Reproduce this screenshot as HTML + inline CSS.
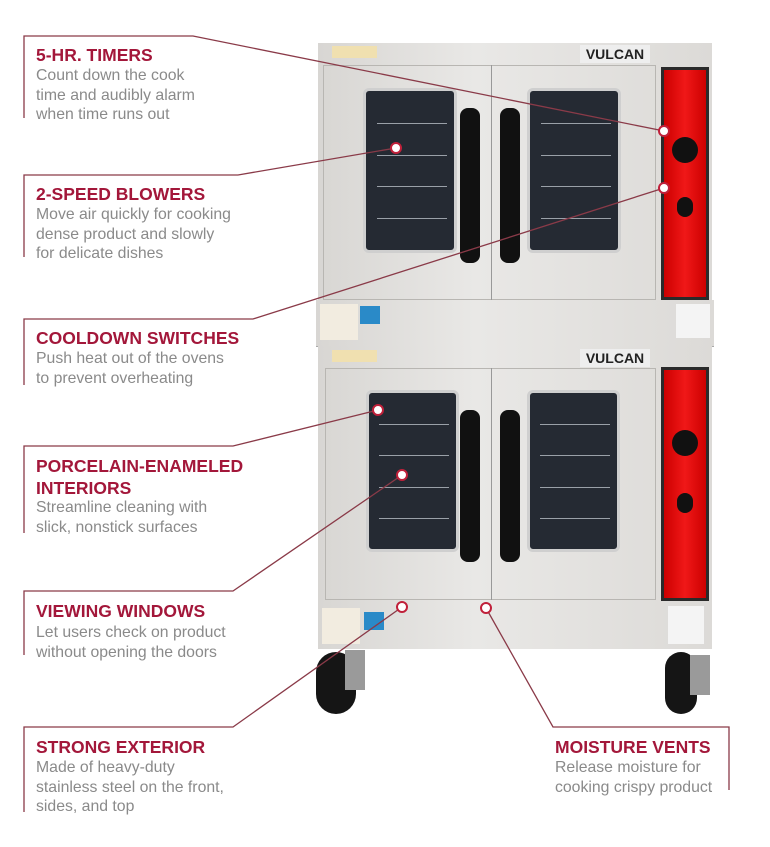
<!DOCTYPE html>
<html><head><meta charset="utf-8"><style>
body{margin:0;width:770px;height:847px;background:#fff;position:relative;overflow:hidden;font-family:"Liberation Sans",sans-serif}
.a{position:absolute}
.t{position:absolute;left:36px;color:#a3173a;font-weight:bold;font-size:17.5px;line-height:22px}
.d{position:absolute;left:36px;color:#8a8a8a;font-size:15.8px;line-height:19.5px}
.steel{background:linear-gradient(90deg,#d8d6d3,#e9e8e6 40%,#dcdad7);}
.win{background:#252a33;border:3px solid #cfcfcf;border-radius:6px;box-sizing:border-box}
.win i{position:absolute;height:1px;background:#9aa0a8;left:12%;right:8%}
.h{background:#111;border-radius:8px}
.red{background:linear-gradient(90deg,#c00,#f01818 50%,#c00);border:3px solid #2a2a2a;box-sizing:border-box}
</style></head><body>
<div class="a steel" style="left:318px;top:43px;width:394px;height:258px"></div>
<div class="a" style="left:580px;top:45px;width:70px;height:18px;background:#eee;font:bold 14px 'Liberation Sans';color:#222;text-align:center;line-height:18px">VULCAN</div>
<div class="a" style="left:332px;top:46px;width:45px;height:12px;background:#f0e0b0"></div>
<div class="a" style="left:323px;top:65px;width:333px;height:235px;border:1px solid #b8b6b2;box-sizing:border-box"></div>
<div class="a" style="left:491px;top:65px;width:1px;height:235px;background:#999"></div>
<div class="a win" style="left:363px;top:88px;width:94px;height:165px"><i style="top:20%"></i><i style="top:40%"></i><i style="top:60%"></i><i style="top:80%"></i></div>
<div class="a win" style="left:527px;top:88px;width:94px;height:165px"><i style="top:20%"></i><i style="top:40%"></i><i style="top:60%"></i><i style="top:80%"></i></div>
<div class="a h" style="left:460px;top:108px;width:20px;height:155px"></div>
<div class="a h" style="left:500px;top:108px;width:20px;height:155px"></div>
<div class="a red" style="left:661px;top:67px;width:48px;height:233px"></div>
<div class="a" style="left:672px;top:137px;width:26px;height:26px;border-radius:50%;background:#111"></div>
<div class="a" style="left:677px;top:197px;width:16px;height:20px;border-radius:8px;background:#111"></div>
<div class="a steel" style="left:316px;top:300px;width:398px;height:46px;border-bottom:1px solid #aaa"></div>
<div class="a" style="left:320px;top:304px;width:38px;height:36px;background:#f2ece0"></div>
<div class="a" style="left:360px;top:306px;width:20px;height:18px;background:#2a8ac8"></div>
<div class="a" style="left:676px;top:304px;width:34px;height:34px;background:#f4f4f4"></div>
<div class="a steel" style="left:318px;top:346px;width:394px;height:256px"></div>
<div class="a" style="left:580px;top:349px;width:70px;height:18px;background:#eee;font:bold 14px 'Liberation Sans';color:#222;text-align:center;line-height:18px">VULCAN</div>
<div class="a" style="left:332px;top:350px;width:45px;height:12px;background:#f0e0b0"></div>
<div class="a" style="left:325px;top:368px;width:331px;height:232px;border:1px solid #b8b6b2;box-sizing:border-box"></div>
<div class="a" style="left:491px;top:368px;width:1px;height:232px;background:#999"></div>
<div class="a win" style="left:366px;top:390px;width:93px;height:162px"><i style="top:20%"></i><i style="top:40%"></i><i style="top:60%"></i><i style="top:80%"></i></div>
<div class="a win" style="left:527px;top:390px;width:93px;height:162px"><i style="top:20%"></i><i style="top:40%"></i><i style="top:60%"></i><i style="top:80%"></i></div>
<div class="a h" style="left:460px;top:410px;width:20px;height:152px"></div>
<div class="a h" style="left:500px;top:410px;width:20px;height:152px"></div>
<div class="a red" style="left:661px;top:367px;width:48px;height:234px"></div>
<div class="a" style="left:672px;top:430px;width:26px;height:26px;border-radius:50%;background:#111"></div>
<div class="a" style="left:677px;top:493px;width:16px;height:20px;border-radius:8px;background:#111"></div>
<div class="a steel" style="left:318px;top:601px;width:394px;height:48px"></div>
<div class="a" style="left:322px;top:608px;width:38px;height:36px;background:#f2ece0"></div>
<div class="a" style="left:364px;top:612px;width:20px;height:18px;background:#2a8ac8"></div>
<div class="a" style="left:668px;top:606px;width:36px;height:38px;background:#f4f4f4"></div>
<div class="a" style="left:316px;top:652px;width:40px;height:62px;border-radius:20px;background:#151515"></div>
<div class="a" style="left:345px;top:650px;width:20px;height:40px;background:#9a9a9a"></div>
<div class="a" style="left:665px;top:652px;width:32px;height:62px;border-radius:16px;background:#151515"></div>
<div class="a" style="left:690px;top:655px;width:20px;height:40px;background:#9a9a9a"></div>
<svg class="a" style="left:0;top:0" width="770" height="847">
<g stroke="#8a3a48" stroke-width="1.3" fill="none">
<polyline points="24,118 24,36 193,36 664,131"/>
<polyline points="24,257 24,175 238,175 396,148"/>
<polyline points="24,385 24,319 253,319 664,188"/>
<polyline points="24,533 24,446 233,446 378,410"/>
<polyline points="24,655 24,591 233,591 402,475"/>
<polyline points="24,812 24,727 233,727 402,607"/>
<polyline points="729,790 729,727 553,727 486,608"/>
</g>
<g fill="#fff" stroke="#c0203a" stroke-width="2">
<circle cx="664" cy="131" r="5"/><circle cx="396" cy="148" r="5"/><circle cx="664" cy="188" r="5"/>
<circle cx="378" cy="410" r="5"/><circle cx="402" cy="475" r="5"/><circle cx="402" cy="607" r="5"/><circle cx="486" cy="608" r="5"/>
</g></svg>
<div class="t" style="top:44px">5-HR. TIMERS</div>
<div class="d" style="top:66px">Count down the cook<br>time and audibly alarm<br>when time runs out</div>
<div class="t" style="top:183px">2-SPEED BLOWERS</div>
<div class="d" style="top:205px">Move air quickly for cooking<br>dense product and slowly<br>for delicate dishes</div>
<div class="t" style="top:327px">COOLDOWN SWITCHES</div>
<div class="d" style="top:349px">Push heat out of the ovens<br>to prevent overheating</div>
<div class="t" style="top:455px">PORCELAIN-ENAMELED<br>INTERIORS</div>
<div class="d" style="top:498px">Streamline cleaning with<br>slick, nonstick surfaces</div>
<div class="t" style="top:600px">VIEWING WINDOWS</div>
<div class="d" style="top:623px">Let users check on product<br>without opening the doors</div>
<div class="t" style="top:736px">STRONG EXTERIOR</div>
<div class="d" style="top:758px">Made of heavy-duty<br>stainless steel on the front,<br>sides, and top</div>
<div class="t" style="top:736px;left:555px">MOISTURE VENTS</div>
<div class="d" style="top:758px;left:555px">Release moisture for<br>cooking crispy product</div>
</body></html>
